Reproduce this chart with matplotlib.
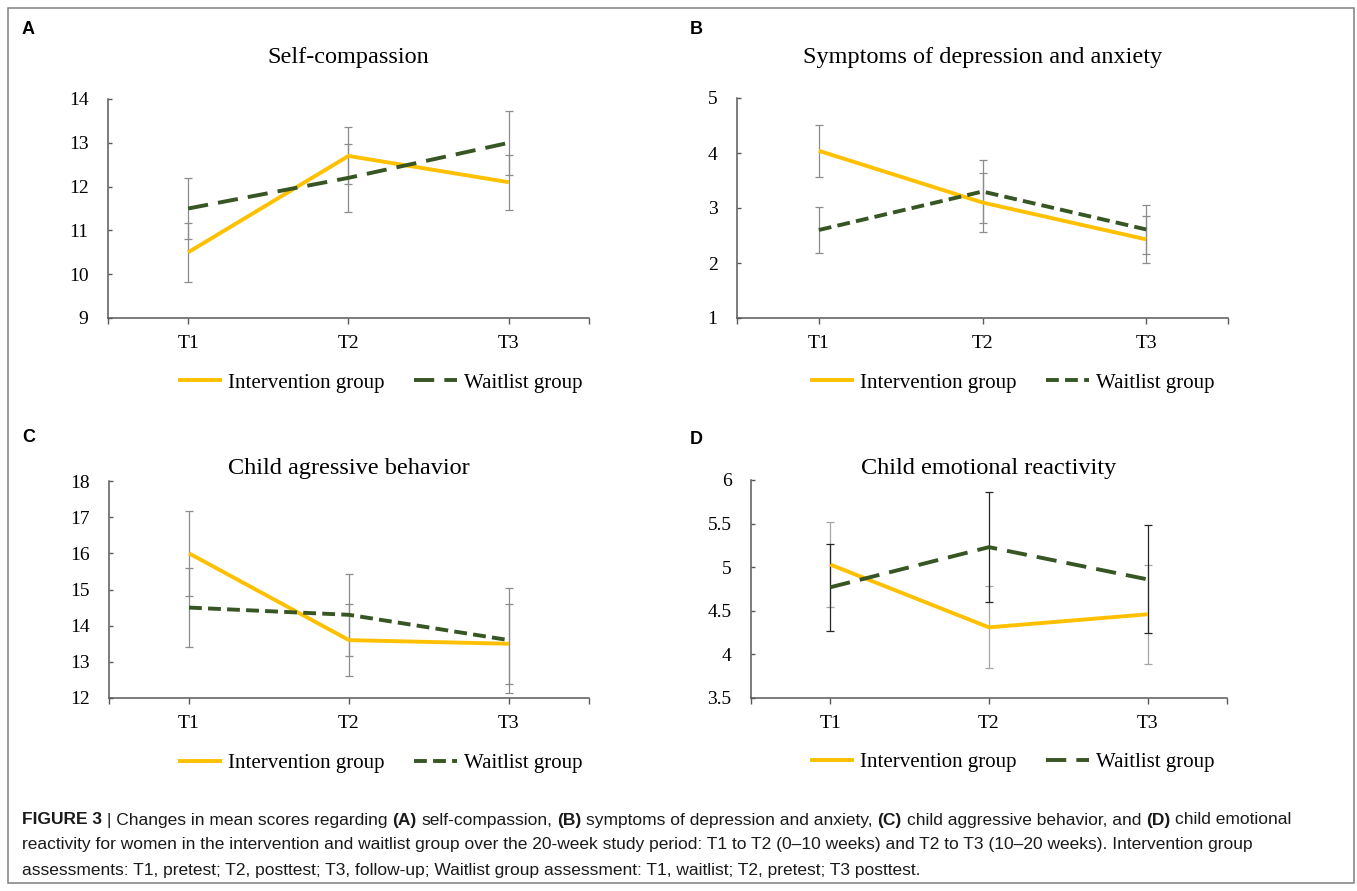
import matplotlib
matplotlib.use('Agg')
import matplotlib.pyplot as plt
from matplotlib import font_manager
from matplotlib.lines import Line2D
from matplotlib.patches import Rectangle

W, H = 1357, 891

categories = ['T1', 'T2', 'T3']
legend_labels = ['Intervention group', 'Waitlist group']
panel_letters = ['A', 'B', 'C', 'D']

# Panel A
a_title = 'Self-compassion'
a_int = [10.5, 12.7, 12.1]
a_int_err = [0.67, 0.65, 0.63]
a_wait = [11.5, 12.2, 13.0]
a_wait_err = [0.70, 0.77, 0.73]
a_yticks = [9, 10, 11, 12, 13, 14]
a_yticklabels = ['9', '10', '11', '12', '13', '14']

# Panel B
b_title = 'Symptoms of depression and anxiety'
b_int = [4.04, 3.10, 2.43]
b_int_err = [0.47, 0.53, 0.43]
b_wait = [2.60, 3.30, 2.61]
b_wait_err = [0.41, 0.57, 0.45]
b_yticks = [1, 2, 3, 4, 5]
b_yticklabels = ['1', '2', '3', '4', '5']

# Panel C
c_title = 'Child agressive behavior'
c_int = [16.0, 13.6, 13.5]
c_int_err = [1.18, 1.00, 1.10]
c_wait = [14.5, 14.3, 13.6]
c_wait_err = [1.09, 1.13, 1.45]
c_yticks = [12, 13, 14, 15, 16, 17, 18]
c_yticklabels = ['12', '13', '14', '15', '16', '17', '18']

# Panel D
d_title = 'Child emotional reactivity'
d_int = [5.03, 4.31, 4.46]
d_int_err = [0.49, 0.47, 0.57]
d_wait = [4.77, 5.23, 4.86]
d_wait_err = [0.50, 0.63, 0.62]
d_yticks = [3.5, 4, 4.5, 5, 5.5, 6]
d_yticklabels = ['3.5', '4', '4.5', '5', '5.5', '6']

caption_lines = [
    [('FIGURE 3', True), (' | Changes in mean scores regarding ', False), ('(A)', True),
     (' self-compassion, ', False), ('(B)', True), (' symptoms of depression and anxiety, ', False),
     ('(C)', True), (' child aggressive behavior, and ', False), ('(D)', True), (' child emotional', False)],
    [('reactivity for women in the intervention and waitlist group over the 20-week study period: '
      'T1 to T2 (0\u201310 weeks) and T2 to T3 (10\u201320 weeks). Intervention group', False)],
    [('assessments: T1, pretest; T2, posttest; T3, follow-up; Waitlist group assessment: '
      'T1, waitlist; T2, pretest; T3 posttest.', False)],
]

YELLOW = '#FFC000'
GREEN = '#375623'
SERIF = 'Liberation Serif'


def pick_font(names):
    for n in names:
        try:
            font_manager.findfont(font_manager.FontProperties(family=n), fallback_to_default=False)
            return n
        except Exception:
            pass
    return 'DejaVu Sans'


fig = plt.figure(figsize=(W / 100, H / 100), dpi=100)


def rect(l, t, r, b):
    return [l / W, 1 - b / H, (r - l) / W, (b - t) / H]


panels = [
    dict(rect=rect(108, 99, 589, 318), title=a_title, ity=57, inter=a_int, ie=a_int_err, wait=a_wait,
         we=a_wait_err, yt=a_yticks, ytl=a_yticklabels, dash=(5.2, 2.6), legy=383, legx=380,
         errc_i='#8C8C8C', errc_w='#8C8C8C', letter=(22, 30)),
    dict(rect=rect(737, 98, 1228, 318), title=b_title, ity=57, inter=b_int, ie=b_int_err, wait=b_wait,
         we=b_wait_err, yt=b_yticks, ytl=b_yticklabels, dash=(3.3, 1.6), legy=383, legx=1012,
         errc_i='#8C8C8C', errc_w='#8C8C8C', letter=(690, 30)),
    dict(rect=rect(109, 481, 589, 698), title=c_title, ity=468, inter=c_int, ie=c_int_err, wait=c_wait,
         we=c_wait_err, yt=c_yticks, ytl=c_yticklabels, dash=(3.3, 1.6), legy=763, legx=380,
         errc_i='#8C8C8C', errc_w='#8C8C8C', letter=(22, 438)),
    dict(rect=rect(751, 480, 1227, 698), title=d_title, ity=468, inter=d_int, ie=d_int_err, wait=d_wait,
         we=d_wait_err, yt=d_yticks, ytl=d_yticklabels, dash=(5.2, 2.6), legy=762, legx=1012,
         errc_i='#A6A6A6', errc_w='#262626', letter=(690, 440)),
]

x = [1, 2, 3]
for i, p in enumerate(panels):
    ax = fig.add_axes(p['rect'])
    ax.errorbar(x, p['inter'], yerr=p['ie'], fmt='none', ecolor=p['errc_i'], elinewidth=0.9,
                capsize=2.6, capthick=0.9, zorder=1)
    ax.errorbar(x, p['wait'], yerr=p['we'], fmt='none', ecolor=p['errc_w'], elinewidth=0.9,
                capsize=2.6, capthick=0.9, zorder=1)
    ax.plot(x, p['inter'], color=YELLOW, lw=2.8, solid_capstyle='butt', zorder=3)
    ax.plot(x, p['wait'], color=GREEN, lw=2.8, linestyle=(0, p['dash']), dash_capstyle='butt', zorder=3)
    ax.set_xlim(0.5, 3.5)
    ax.set_ylim(p['yt'][0], p['yt'][-1])
    ax.set_yticks(p['yt'])
    ax.set_yticklabels(p['ytl'], fontfamily=SERIF, fontsize=14)
    ax.set_xticks([0.5, 1, 2, 3, 3.5])
    ax.set_xticklabels([''] + categories + [''], fontfamily=SERIF, fontsize=14)
    for s in ['top', 'right']:
        ax.spines[s].set_visible(False)
    for s in ['left', 'bottom']:
        ax.spines[s].set_color('#595959')
        ax.spines[s].set_linewidth(1.1)
    ax.tick_params(axis='y', direction='in', length=3, width=1, color='#595959', pad=14)
    ax.tick_params(axis='x', direction='out', length=4, width=1, color='#595959', pad=8)
    ax.set_facecolor('none')
    cx = p['rect'][0] + p['rect'][2] / 2
    fig.text(cx, 1 - p['ity'] / H, p['title'], ha='center', va='center', fontfamily=SERIF, fontsize=17.5)
    handles = [Line2D([], [], color=YELLOW, lw=2.8, solid_capstyle='butt'),
               Line2D([], [], color=GREEN, lw=2.8, linestyle=(0, p['dash']), dash_capstyle='butt')]
    ax.legend(handles, legend_labels, loc='center', bbox_to_anchor=(p['legx'] / W, 1 - p['legy'] / H),
              bbox_transform=fig.transFigure, ncol=2, frameon=False, handlelength=2.1,
              handletextpad=0.3, columnspacing=1.4, prop={'family': SERIF, 'size': 15})
    lx, ly = p['letter']
    fig.text(lx / W, 1 - ly / H, panel_letters[i], ha='left', va='center', fontfamily='Liberation Sans',
             fontweight='bold', fontsize=13)

# frame
fig.patches.append(Rectangle((8 / W, 1 - 883 / H), (1354 - 8) / W, (883 - 8) / H, transform=fig.transFigure,
                             fill=False, ec='#7F7F7F', lw=1.1))

# caption
cap_font = pick_font(['Liberation Sans Narrow', 'Liberation Sans'])
renderer = fig.canvas.get_renderer()


def text_w(s, bold, size):
    t = fig.text(0, 0, s, fontfamily=cap_font, fontweight='bold' if bold else 'normal', fontsize=size)
    w = t.get_window_extent(renderer).width
    t.remove()
    return w


def space_w(bold, size):
    return text_w('a a', bold, size) - text_w('aa', bold, size)


def line_width(pieces, size):
    tot = 0
    for s, b in pieces:
        st = s.strip(' ')
        nl = len(s) - len(s.lstrip(' '))
        nt = len(s) - len(s.rstrip(' '))
        tot += (nl + nt) * space_w(b, size) + text_w(st, b, size)
    return tot


base = 12.0
w1 = line_width(caption_lines[0], base)
cap_size = min(12.5, base * 1313 / w1)

line_y = [820, 845, 870]
for pieces, yy in zip(caption_lines, line_y):
    xx = 22
    for s, b in pieces:
        st = s.strip(' ')
        nl = len(s) - len(s.lstrip(' '))
        nt = len(s) - len(s.rstrip(' '))
        xx += nl * space_w(b, cap_size)
        t = fig.text(xx / W, 1 - yy / H, st, ha='left', va='center', fontfamily=cap_font,
                     fontweight='bold' if b else 'normal', fontsize=cap_size, color='#1a1a1a')
        xx += t.get_window_extent(renderer).width + nt * space_w(b, cap_size)

fig.savefig('out.png', dpi=100)
